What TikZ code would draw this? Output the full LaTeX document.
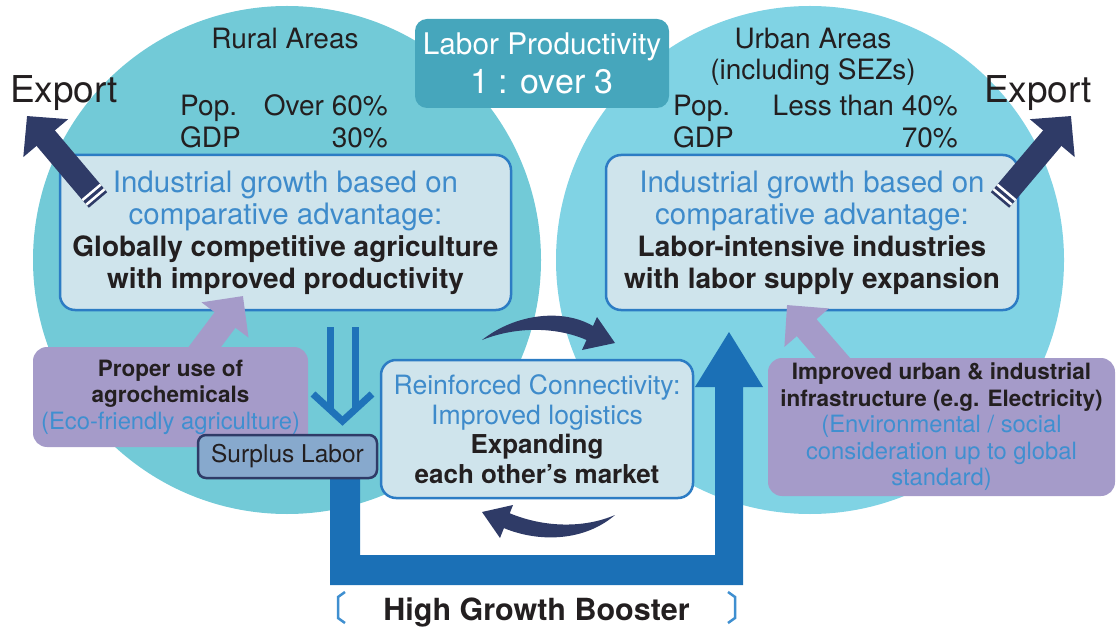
\documentclass[tikz,border=0pt]{standalone}
\usepackage{fontspec}
\setmainfont{TeX Gyre Heros}
\usetikzlibrary{arrows.meta}
\definecolor{circL}{HTML}{72CAD7}
\definecolor{circR}{HTML}{80D3E4}
\definecolor{labbox}{HTML}{46A6BC}
\definecolor{boxfill}{HTML}{CFE4EC}
\definecolor{boxline}{HTML}{2C7CC4}
\definecolor{blueT}{HTML}{3E8BCB}
\definecolor{purp}{HTML}{A59BC9}
\definecolor{purpT}{HTML}{3F8FD0}
\definecolor{surp}{HTML}{87A9CD}
\definecolor{navy}{HTML}{2F3B67}
\definecolor{bigblue}{HTML}{1B70B6}
\definecolor{dblue}{HTML}{1F73B9}
\definecolor{txt}{HTML}{231F20}
\newcommand{\bluebig}[1]{\textcolor{blueT}{\fontsize{29.5}{32}\selectfont #1}}
\newcommand{\bluemid}[1]{\textcolor{purpT}{\fontsize{23.8}{26.5}\selectfont #1}}
\begin{document}
\begin{tikzpicture}[x=1pt,y=-1pt,
  txtnode/.style={inner sep=0pt, text=txt, font=\fontsize{28}{32}\selectfont},
  mainbox/.style={draw=boxline, line width=2.5pt, fill=boxfill, rounded corners=15pt, align=center, inner sep=0pt, text=txt, font=\fontsize{28}{32}\selectfont, minimum height=155pt},
  purpbox/.style={fill=purp, rounded corners=14pt, align=center, inner sep=0pt, text=txt, font=\fontsize{22.5}{26.5}\selectfont},
  exportarrow/.style={navy, line width=24pt, -{Triangle[length=29pt,width=57pt]}},
  purparrow/.style={purp, line width=26pt, -{Triangle[length=30pt,width=57pt]}},
  stripe/.style={white, line width=2.5pt},
  bracketline/.style={purpT, line width=2.5pt}
]
\useasboundingbox (0,0) rectangle (1116,628);
% circles
\node[circle, fill=circL, minimum size=508pt, inner sep=0pt] (rural) at (287,260) {};
\node[circle, fill=circR, minimum size=508pt, inner sep=0pt] (urban) at (810,260) {};
% labor productivity
\node[fill=labbox, rounded corners=12pt, minimum width=254pt, minimum height=89pt, align=center, inner sep=0pt, text=white, font=\fontsize{29.8}{33}\selectfont] (labor) at (542,63.5) {Labor Productivity\\[6pt]{\fontsize{34}{34}\selectfont 1 : over 3}};
% rural texts
\node[txtnode, anchor=base] (ruralT) at (285,49) {Rural Areas};
\node[txtnode, anchor=base west] (rpop) at (180,116) {Pop.};
\node[txtnode, anchor=base east] (rpopv) at (388,116) {Over 60\%};
\node[txtnode, anchor=base west] (rgdp) at (180,148) {GDP};
\node[txtnode, anchor=base east] (rgdpv) at (388,148) {30\%};
% urban texts
\node[txtnode, anchor=base] (urbanT) at (813,49) {Urban Areas};
\node[txtnode, anchor=base] (urbanT2) at (813,80) {(including SEZs)};
\node[txtnode, anchor=base west] (upop) at (673,116) {Pop.};
\node[txtnode, anchor=base east] (upopv) at (958,116) {Less than 40\%};
\node[txtnode, anchor=base west] (ugdp) at (673,148) {GDP};
\node[txtnode, anchor=base east] (ugdpv) at (958,148) {70\%};
% export labels
\node[txtnode, anchor=base west, font=\fontsize{37}{40}\selectfont] (expL) at (10,103) {Export};
\node[txtnode, anchor=base west, font=\fontsize{37}{40}\selectfont] (expR) at (984,103) {Export};
% main boxes
\node[mainbox, minimum width=451pt] (lbox) at (285.5,232.5) {\bluebig{Industrial growth based on}\\\bluebig{comparative advantage:}\\\textbf{Globally competitive agriculture}\\\textbf{with improved productivity}};
\node[mainbox, minimum width=412pt] (rbox) at (812,232.5) {\bluebig{Industrial growth based on}\\\bluebig{comparative advantage:}\\\textbf{Labor-intensive industries}\\\textbf{with labor supply expansion}};
% export arrows
\coordinate (lxtail) at (98,200);
\coordinate (lxtip) at (27,116);
\coordinate (rxtail) at (1000,200);
\coordinate (rxtip) at (1071,116);
\draw[exportarrow] (lxtail) -- (lxtip);
\draw[exportarrow] (rxtail) -- (rxtip);
\begin{scope}[shift={(lxtail)}, rotate=130.2]
  \draw[stripe] (4,-12) -- (4,12) (10,-12) -- (10,12);
\end{scope}
\begin{scope}[shift={(rxtail)}, rotate=49.8]
  \draw[stripe] (4,-12) -- (4,12) (10,-12) -- (10,12);
\end{scope}
% purple arrows and boxes
\coordinate (lptip) at (243,296);
\coordinate (rptip) at (787,305);
\coordinate (lpbase) at (195,360);
\coordinate (rpbase) at (845,372);
\draw[purparrow] (lpbase) -- (lptip);
\draw[purparrow] (rpbase) -- (rptip);
\node[purpbox, minimum width=275pt, minimum height=100pt] (pbox) at (170.5,397) {\textbf{Proper use of}\\\textbf{agrochemicals}\\\bluemid{(Eco-friendly agriculture)}};
\node[purpbox, minimum width=347pt, minimum height=138pt] (ibox) at (941.5,427) {\textbf{Improved urban \& industrial}\\\textbf{infrastructure (e.g. Electricity)}\\\bluemid{(Environmental / social}\\\bluemid{consideration up to global}\\\bluemid{standard)}};
% double down arrow
\draw[dblue, line width=7pt] (330,327) -- (330,408) (355,327) -- (355,408);
\draw[dblue, line width=7pt, miter limit=10] (313,394) -- (342.5,421) -- (372,394);
% big blue booster path
\fill[bigblue] (330,470) -- (330,585) -- (743,585) -- (743,387) -- (763,387) -- (729,332) -- (695,387) -- (715,387) -- (715,555) -- (360,555) -- (360,470) -- cycle;
% surplus labor
\node[draw=navy, line width=2.5pt, fill=surp, rounded corners=8pt, minimum width=179pt, minimum height=43pt, inner sep=0pt, text=txt, font=\fontsize{24.5}{28}\selectfont] (surplus) at (287.5,456.5) {Surplus Labor};
% reinforced connectivity
\node[draw=boxline, line width=2.5pt, fill=boxfill, rounded corners=15pt, minimum width=312pt, minimum height=138pt, align=center, inner sep=0pt, text=txt, font=\fontsize{26}{29.5}\selectfont] (rcbox) at (537,429) {\textcolor{blueT}{\fontsize{26.6}{29.5}\selectfont Reinforced Connectivity:}\\\textcolor{blueT}{\fontsize{26.6}{29.5}\selectfont Improved logistics}\\\textbf{Expanding}\\\textbf{each other’s market}};
% curved arrows
\fill[navy] (482,340) .. controls (515,314) and (562,308) .. (593,326) -- (597,317) -- (615,343) -- (582,350) -- (586.5,340) .. controls (557,327) and (517,326) .. cycle;
\fill[navy] (615,515) .. controls (585,541) and (540,543) .. (503.9,528.1) -- (500,538) -- (482,512) -- (513,505) -- (509.75,513.25) .. controls (545,528) and (585,528) .. cycle;
% bottom label
\node[txtnode, anchor=base, font=\fontsize{30.5}{34}\selectfont\bfseries] (booster) at (536.5,620) {High Growth Booster};
\draw[bracketline] (345,592) -- (338,597) -- (338,618) -- (345,623);
\draw[bracketline] (728,592) -- (735,597) -- (735,618) -- (728,623);
\end{tikzpicture}
\end{document}
